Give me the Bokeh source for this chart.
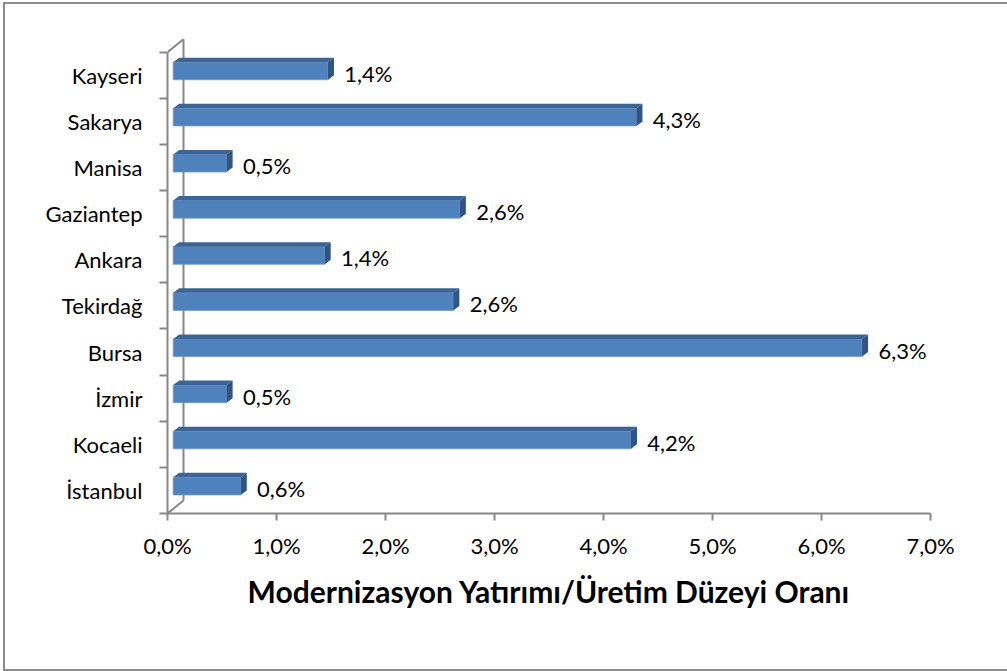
from bokeh.plotting import figure
from bokeh.models import FixedTicker, Range1d
from bokeh.core.properties import value
from bokeh.embed import file_html
from bokeh.resources import INLINE

# ---- data (bottom to top) ----
cities = ["İstanbul", "Kocaeli", "İzmir", "Bursa", "Tekirdağ",
          "Ankara", "Gaziantep", "Manisa", "Sakarya", "Kayseri"]
ratios = [0.62, 4.20, 0.49, 6.32, 2.57, 1.39, 2.63, 0.49, 4.25, 1.42]
ratio_labels = ["0,6%", "4,2%", "0,5%", "6,3%", "2,6%",
                "1,4%", "2,6%", "0,5%", "4,3%", "1,4%"]
x_ticks = [0, 1, 2, 3, 4, 5, 6, 7]
x_tick_labels = ["0,0%", "1,0%", "2,0%", "3,0%", "4,0%", "5,0%", "6,0%", "7,0%"]
x_title = "Modernizasyon Yatırımı/Üretim Düzeyi Oranı"

# ---- layout / style ----
FONT = "Lato"
GRAY = "#878787"
XMAX_AXIS = 7
PX_PER_X = 109.0
PX_PER_Y = 46.13
FW = 763
FH = 477
XEND = FW / PX_PER_X
YEND = FH / PX_PER_Y
sx = 1.0 / PX_PER_X
sy = 1.0 / PX_PER_Y

BAR_DX, BAR_DY = 5.7, 4.3       # bar front face offset (px)
FACE_H = 17.6                   # bar front face height (px)
DDX, DDY = 6.0, 4.5             # bar depth (px)
WALL_DX, WALL_DY = 16.0, 13.0   # back wall offset (px)

p = figure(frame_width=FW, frame_height=FH,
           x_range=Range1d(0, XEND), y_range=Range1d(0, YEND),
           output_backend="svg", toolbar_location=None,
           min_border_left=162, min_border_top=32,
           min_border_right=77, min_border_bottom=156)
p.outline_line_color = None
p.xgrid.visible = False
p.ygrid.visible = False
p.background_fill_color = "white"
p.border_fill_color = "white"
p.styles = {"border-top": "2px solid #8c8c8c", "border-left": "2px solid #8c8c8c",
            "border-bottom": "2px solid #8c8c8c", "margin-left": "3px",
            "margin-top": "2px"}

# back wall
n = len(cities)
p.line(x=[WALL_DX * sx, WALL_DX * sx], y=[WALL_DY * sy, n + WALL_DY * sy],
       line_color=GRAY, line_width=2)
p.segment(x0=[0, 0], y0=[0, n], x1=[WALL_DX * sx, WALL_DX * sx],
          y1=[WALL_DY * sy, n + WALL_DY * sy], line_color=GRAY, line_width=2)

# bars
lefts, rights, bottoms, tops = [], [], [], []
top_xs, top_ys, side_xs, side_ys = [], [], [], []
for i, v in enumerate(ratios):
    yc = i + 0.5 + BAR_DY * sy
    b = yc - FACE_H / 2 * sy
    t = yc + FACE_H / 2 * sy
    l = BAR_DX * sx
    r = v + BAR_DX * sx
    lefts.append(l); rights.append(r); bottoms.append(b); tops.append(t)
    top_xs.append([l, r, r + DDX * sx, l + DDX * sx])
    top_ys.append([t, t, t + DDY * sy, t + DDY * sy])
    side_xs.append([r, r, r + DDX * sx, r + DDX * sx])
    side_ys.append([b, t, t + DDY * sy, b + DDY * sy])

p.quad(left=lefts, right=rights, bottom=bottoms, top=tops,
       fill_color="#4F81BD", line_color="#6E98CC", line_width=0.8)
p.patches(xs=top_xs, ys=top_ys, fill_color="#3C6596", line_color=None)
p.patches(xs=side_xs, ys=side_ys, fill_color="#2F5683", line_color=None)

# value labels
p.text(x=ratios, y=[i + 0.5 for i in range(n)], text=ratio_labels,
       x_offset=22, y_offset=-2, text_baseline="middle", text_align="left",
       text_font=value(FONT), text_font_size="22px", text_color="black")

# x axis
xa = p.xaxis[0]
xa.bounds = (0, XMAX_AXIS)
xa.ticker = FixedTicker(ticks=x_ticks, minor_ticks=[])
xa.major_label_overrides = {t: s for t, s in zip(x_ticks, x_tick_labels)}
xa.axis_line_color = GRAY
xa.axis_line_width = 2
xa.major_tick_line_color = GRAY
xa.major_tick_line_width = 2
xa.major_tick_out = 7
xa.major_tick_in = 0
xa.minor_tick_out = 0
xa.major_label_text_font = FONT
xa.major_label_text_font_size = "22px"
xa.major_label_text_color = "black"
xa.major_label_standoff = 11
xa.axis_label = x_title
xa.axis_label_text_font = FONT
xa.axis_label_text_font_size = "30px"
xa.axis_label_text_font_style = "bold"
xa.axis_label_text_color = "black"
xa.axis_label_standoff = 11

# y axis
ya = p.yaxis[0]
ya.bounds = (0, n)
centers = [i + 0.5 for i in range(n)]
ya.ticker = FixedTicker(ticks=centers, minor_ticks=list(range(n + 1)))
ya.major_label_overrides = {c: s for c, s in zip(centers, cities)}
ya.axis_line_color = GRAY
ya.axis_line_width = 2
ya.major_tick_out = 0
ya.major_tick_in = 0
ya.minor_tick_out = 8
ya.minor_tick_in = 0
ya.minor_tick_line_color = GRAY
ya.minor_tick_line_width = 2
ya.major_label_text_font = FONT
ya.major_label_text_font_size = "22px"
ya.major_label_text_color = "black"
ya.major_label_standoff = 17

open("out.html", "w").write(file_html(p, INLINE))
